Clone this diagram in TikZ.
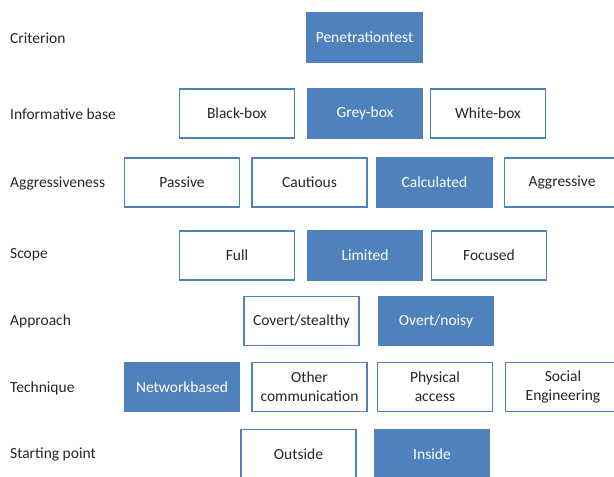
\documentclass[tikz,border=0pt]{standalone}
\usepackage{fontspec}
\setmainfont{Carlito}
\definecolor{accent}{HTML}{4F81BD}
\begin{document}
\begin{tikzpicture}[x=1pt,y=-1pt,
  box/.style={draw=accent,line width=1.8pt,fill=white,minimum width=115pt,minimum height=49pt,inner sep=0pt,align=center,font=\fontsize{15.5}{19}\selectfont,text=black!85},
  chosen/.style={box,fill=accent,text=white},
  lbl/.style={anchor=west,inner sep=0pt,font=\fontsize{15.5}{19}\selectfont,text=black!85}]
\useasboundingbox (0,0) rectangle (614,477);
\begin{scope}
\clip (0,0) rectangle (614,477);
% row labels
\node[lbl] (l1) at (10,38) {Criterion};
\node[lbl] (l2) at (10,114) {Informative base};
\node[lbl] (l3) at (10,183) {Aggressiveness};
\node[lbl] (l4) at (10,255) {Scope};
\node[lbl] (l5) at (10,321) {Approach};
\node[lbl] (l6) at (10,388) {Technique};
\node[lbl] (l7) at (10,454) {Starting point};
% boxes
\node[chosen] (pen) at (364.5,37.5) {Penetrationtest};
\node[box] (black) at (237,113.5) {Black-box};
\node[chosen] (grey) at (365,113.5) {Grey-box};
\node[box] (white) at (488,113.5) {White-box};
\node[box] (passive) at (182,182.5) {Passive};
\node[box] (cautious) at (309.5,182.5) {Cautious};
\node[chosen] (calc) at (434.5,182.5) {Calculated};
\node[box] (aggr) at (562,182.5) {Aggressive};
\node[box] (full) at (237,255.5) {Full};
\node[chosen] (limited) at (365,255.5) {Limited};
\node[box] (focused) at (489,255.5) {Focused};
\node[box] (covert) at (301.5,321) {Covert/stealthy};
\node[chosen] (overt) at (436,321) {Overt/noisy};
\node[chosen] (net) at (182,387) {Networkbased};
\node[box] (other) at (309.5,387) {Other\\communication};
\node[box] (phys) at (435,387) {Physical\\access};
\node[box] (social) at (563,387) {Social\\Engineering};
\node[box] (outside) at (298.5,454) {Outside};
\node[chosen] (inside) at (432,454) {Inside};
\end{scope}
\end{tikzpicture}
\end{document}
